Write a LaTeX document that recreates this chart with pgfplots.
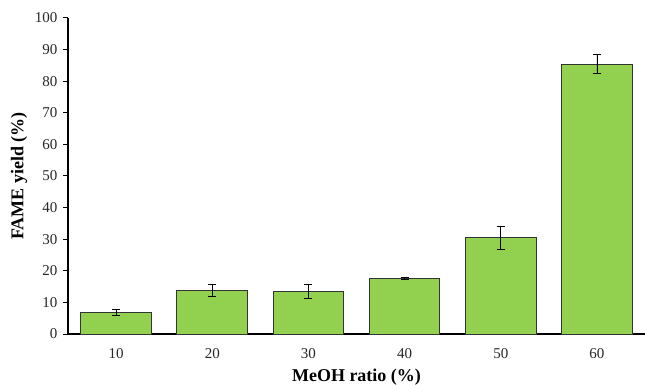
\documentclass[border=0pt]{standalone}
\usepackage{pgfplots}
\pgfplotsset{compat=1.18}
\usepackage{fontspec}
\setmainfont{Liberation Serif}
\definecolor{barg}{HTML}{92D050}
\begin{document}
\begin{tikzpicture}
\begin{axis}[
  scale only axis, width=577bp, height=316bp,
  xmin=-0.5, xmax=5.5, ymin=0, ymax=100,
  axis x line*=bottom, axis y line*=left,
  axis line style={line width=1.6bp, -},
  xtick={0,1,2,3,4,5}, xticklabels={10,20,30,40,50,60},
  x tick style={draw=none},
  ytick={0,10,...,100},
  y tick style={line width=1bp, black},
  tick align=outside, major tick length=5bp,
  /pgf/number format/assume math mode=true,
  ticklabel style={font=\fontsize{15bp}{17bp}\selectfont, text=black!85},
  xticklabel style={yshift=-6bp},
  yticklabel style={xshift=-2bp},
  xlabel={\textbf{MeOH ratio (\%)}},
  ylabel={\textbf{FAME yield (\%)}},
  label style={font=\fontsize{18bp}{20bp}\selectfont},
  xlabel style={at={(axis description cs:0.5,-0.136)}, anchor=center},
  ylabel style={at={(axis description cs:-0.0849,0.5)}, anchor=center},
  clip=false,
]
\addplot[ybar, bar width=0.735, fill=barg, draw=black!80, line width=1bp,
  error bars/.cd, y dir=both, y explicit,
  error bar style={line width=0.8bp, black},
  error mark options={rotate=90, mark size=4bp, line width=0.8bp, black}]
  coordinates {
  (0,6.9) +- (0,1.0)
  (1,13.9) +- (0,1.9)
  (2,13.6) +- (0,2.2)
  (3,17.7) +- (0,0.3)
  (4,30.5) +- (0,3.7)
  (5,85.4) +- (0,3.0)
  };
\coordinate (bl) at ([xshift=-68bp,yshift=-51bp]axis description cs:0,0);
\coordinate (tr) at ([yshift=18bp]axis description cs:1,1);
\end{axis}
\pgfresetboundingbox
\useasboundingbox (bl) rectangle (tr);
\end{tikzpicture}
\end{document}
